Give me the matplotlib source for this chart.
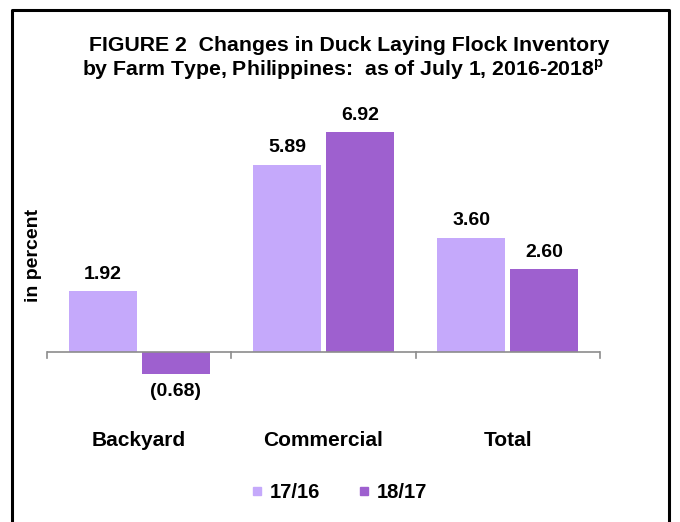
import matplotlib.pyplot as plt
import numpy as np
from matplotlib.lines import Line2D

plt.rcParams['font.family'] = ['Liberation Sans', 'DejaVu Sans']
plt.rcParams['font.weight'] = 'bold'

categories = ['Backyard', 'Commercial', 'Total']
series_names = ['17/16', '18/17']
vals_1716 = [1.92, 5.89, 3.60]
vals_1817 = [-0.68, 6.92, 2.60]
colors = ['#C5A9FB', '#9E60CF']

W, H = 680, 522
fig = plt.figure(figsize=(W / 100, H / 100), dpi=100)

# axes placed in pixel terms: x 47..600, y 100..410 (zero at ~352)
ax_l, ax_r, ax_t, ax_b = 47, 600, 100, 410
ax = fig.add_axes([ax_l / W, 1 - ax_b / H, (ax_r - ax_l) / W, (ax_b - ax_t) / H])
ppu = 31.8
ax.set_ylim(-(ax_b - 352) / ppu, (352 - ax_t) / ppu)
ax.set_xlim(0, 3)

x = np.arange(3) + 0.5
bw = 68 / 184.3
gap = 5 / 184.3
b1 = ax.bar(x - bw / 2 - gap / 2, vals_1716, bw, color=colors[0])
b2 = ax.bar(x + bw / 2 + gap / 2, vals_1817, bw, color=colors[1])

def fmt(v):
    return f'({abs(v):.2f})' if v < 0 else f'{v:.2f}'

for bars, vals in [(b1, vals_1716), (b2, vals_1817)]:
    for b, v in zip(bars, vals):
        cx = b.get_x() + b.get_width() / 2
        if v >= 0:
            ax.annotate(fmt(v), (cx, v), xytext=(0, 6), textcoords='offset points',
                        ha='center', va='bottom', fontsize=14, fontweight='bold')
        else:
            ax.annotate(fmt(v), (cx, v), xytext=(0, -7), textcoords='offset points',
                        ha='center', va='top', fontsize=14, fontweight='bold')

# zero axis line with downward ticks
ax.axhline(0, color='#8c8c8c', lw=1.2)
for t in range(4):
    ax.plot([t, t], [0, -6 / ppu], color='#8c8c8c', lw=1.2, clip_on=False)

for s in ax.spines.values():
    s.set_visible(False)
ax.set_xticks([])
ax.set_yticks([])

for xi, c in zip(x, categories):
    ax.text(xi, -(440 - 352) / ppu, c, ha='center', va='center',
            fontsize=15, fontweight='bold')

fig.text(33 / W, 1 - 255 / H, 'in percent', rotation=90, ha='center', va='center',
         fontsize=14, fontweight='bold')

fig.text(349 / W, 1 - 45 / H, 'FIGURE 2  Changes in Duck Laying Flock Inventory',
         ha='center', va='center', fontsize=15.3, fontweight='bold')
fig.text(343 / W, 1 - 70 / H, 'by Farm Type, Philippines:  as of July 1, 2016-2018$^{\\mathregular{p}}$',
         ha='center', va='center', fontsize=15.3, fontweight='bold')

# legend
handles = [Line2D([], [], marker='s', ls='none', color=c, markersize=5.5) for c in colors]
fig.legend(handles, series_names, loc='center', bbox_to_anchor=(337 / W, 1 - 493 / H),
           ncol=2, frameon=False, handletextpad=0.1, columnspacing=1.7,
           handlelength=1.0, prop={'weight': 'bold', 'size': 14.5})

# outer frame (left, top, right)
fig.add_artist(Line2D([12 / W, 12 / W, 669 / W, 669 / W], [0, 1 - 10 / H, 1 - 10 / H, 0],
                      color='black', lw=2.2, transform=fig.transFigure))

fig.savefig('out.png', dpi=100)
